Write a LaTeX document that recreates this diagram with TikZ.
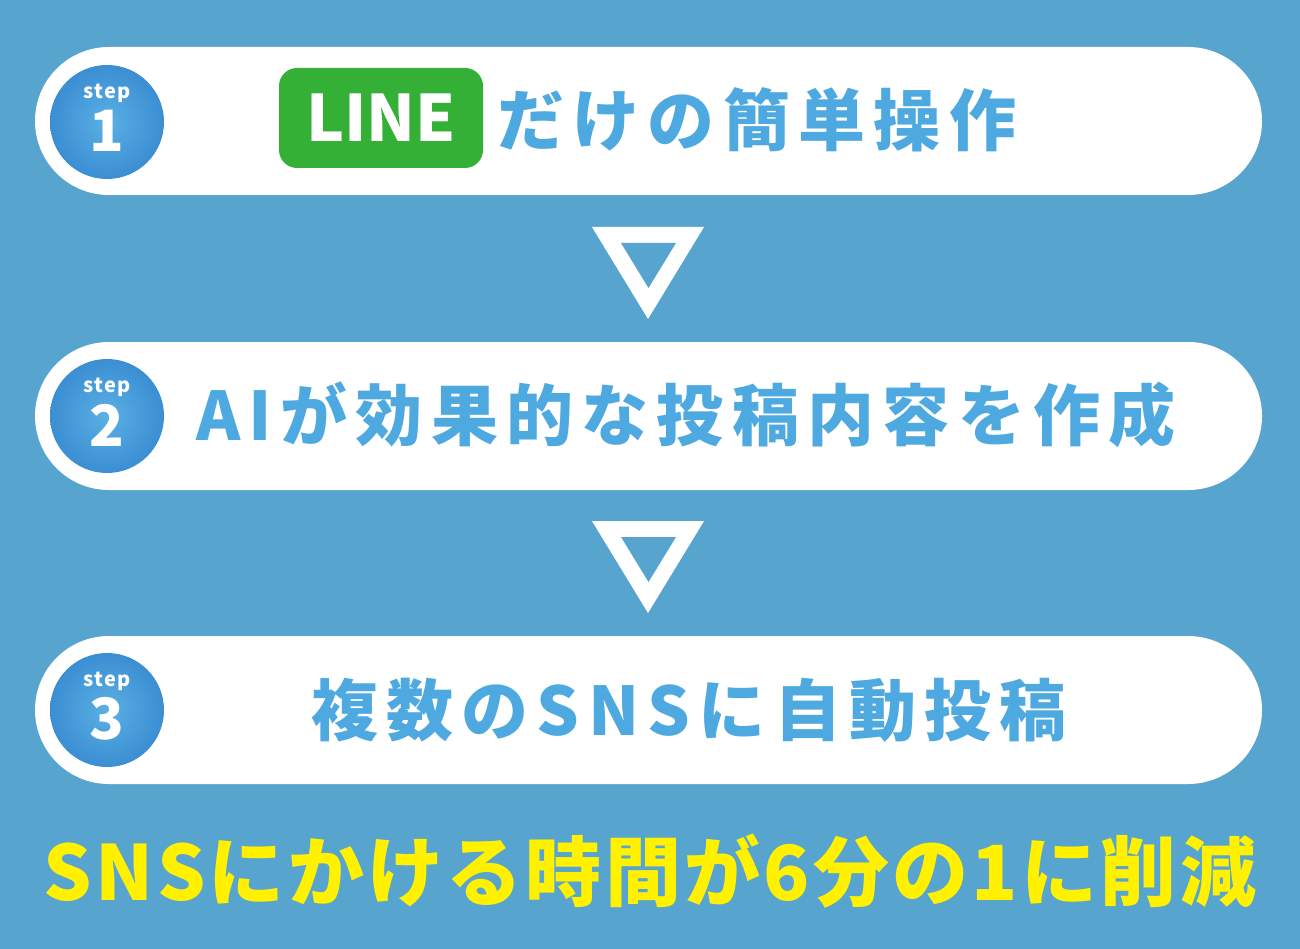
\documentclass[tikz,border=0pt]{standalone}
\usepackage{fontspec}
\setmainfont{Noto Sans CJK JP}
\newfontfamily\jpb{Noto Sans CJK JP}
\newfontfamily\jpl{Noto Sans CJK JP}[LetterSpace=7]
\newfontfamily\jps{Noto Sans CJK JP}[LetterSpace=12.4]
\newfontfamily\jpt{Noto Sans CJK JP}[LetterSpace=4.3]
\definecolor{bg}{HTML}{57A5CF}
\definecolor{txt}{HTML}{4DA9E0}
\definecolor{cdark}{HTML}{3A8ED2}
\definecolor{clight}{HTML}{5BB0E4}
\definecolor{linegreen}{HTML}{35B037}
\definecolor{yel}{HTML}{FFF100}
\tikzset{
  pill/.style={fill=white, draw=none, rounded corners=74pt},
  stepcircle/.style={circle, minimum size=114pt, inner sep=0pt, inner color=clight, outer color=cdark},
  steplabel/.style={text=white, font=\jpl\bfseries\fontsize{20}{20}\selectfont, inner sep=0pt},
  stepnum/.style={text=white, font=\jpb\bfseries\fontsize{57}{57}\selectfont, inner sep=0pt},
  maintext/.style={text=txt, font=\jps\bfseries\fontsize{67}{67}\selectfont, inner sep=0pt, anchor=base},
  arrowtri/.style={fill=white, draw=none},
}
\begin{document}
\begin{tikzpicture}[x=1pt,y=-1pt]
\fill[bg] (0,0) rectangle (1300,949);
\useasboundingbox (0,0) rectangle (1300,949);
% pills
\fill[pill] (35,47) rectangle (1262,195);
\fill[pill] (35,342) rectangle (1262,490);
\fill[pill] (35,636) rectangle (1262,784);
% step circles
\node[stepcircle] (c1) at (107,122) {};
\node[stepcircle] (c2) at (107,416) {};
\node[stepcircle] (c3) at (107,710) {};
\foreach \c/\n in {c1/1,c2/2,c3/3}{
  \node[steplabel] at ([yshift=29pt]\c.center) {step};
  \node[stepnum] at ([yshift=-9pt]\c.center) {\n};
}
% triangles
\fill[arrowtri] (592,227) -- (704,227) -- (648,319) -- cycle;
\fill[bg] (621,243) -- (676,243) -- (648.5,288) -- cycle;
\fill[arrowtri] (592,521) -- (704,521) -- (648,613) -- cycle;
\fill[bg] (621,537) -- (676,537) -- (648.5,582) -- cycle;
% row 1
\node[fill=linegreen, rounded corners=18pt, minimum width=204pt, minimum height=100pt, inner sep=0pt] (line) at (381,118) {};
\node[text=white, font=\jpb\bfseries\fontsize{64}{64}\selectfont, inner sep=0pt] at (line.center) {LINE};
\node[maintext, anchor=base west] (t1) at (497,146) {だけの簡単操作};
% row 2
\node[maintext] (t2) at (686,440) {AIが効果的な投稿内容を作成};
% row 3
\node[maintext] (t3) at (689,735) {複数のSNSに自動投稿};
% bottom
\node[text=yel, font=\jpt\bfseries\fontsize{76}{76}\selectfont, inner sep=0pt, anchor=base] (b) at (650,900) {SNSにかける時間が6分の1に削減};
\end{tikzpicture}
\end{document}
